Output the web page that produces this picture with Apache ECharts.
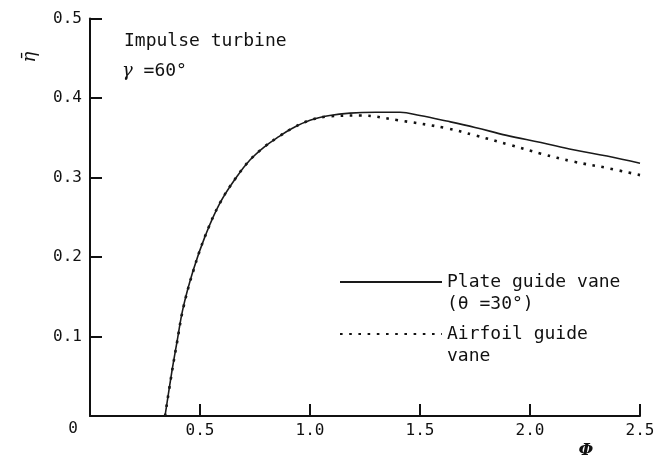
<!DOCTYPE html>
<html>
<head>
<meta charset="utf-8">
<script src="https://cdn.jsdelivr.net/npm/echarts@6/dist/echarts.min.js"></script>
<style>
  html, body { margin: 0; padding: 0; background: #fff; }
  #chart { width: 658px; height: 459px; }
</style>
</head>
<body>
<div id="chart"></div>
<script>
// Flow coefficient Φ and mean efficiency η̄ for the impulse turbine (γ = 60°)
const phiPlate = [0.341, 0.371, 0.394, 0.424, 0.470, 0.523, 0.591, 0.667, 0.727, 0.79, 0.856, 0.92, 1.0, 1.09, 1.182, 1.3, 1.409, 1.5, 1.621, 1.75, 1.894, 2.05, 2.197, 2.35, 2.5];
const etaPlate = [0, 0.054, 0.091, 0.137, 0.184, 0.226, 0.268, 0.301, 0.322, 0.338, 0.351, 0.362, 0.372, 0.378, 0.381, 0.382, 0.382, 0.378, 0.371, 0.363, 0.353, 0.344, 0.335, 0.327, 0.318];

const phiAirfoil = [0.341, 0.371, 0.394, 0.424, 0.470, 0.523, 0.591, 0.667, 0.727, 0.79, 0.856, 0.92, 1.0, 1.09, 1.227, 1.4, 1.621, 1.75, 1.909, 2.05, 2.197, 2.35, 2.5];
const etaAirfoil = [0, 0.053, 0.090, 0.136, 0.183, 0.226, 0.268, 0.301, 0.322, 0.338, 0.351, 0.362, 0.372, 0.377, 0.378, 0.372, 0.362, 0.353, 0.341, 0.330, 0.320, 0.312, 0.303];

const seriesNames = ['Plate guide vane\n(θ =30°)', 'Airfoil guide\nvane'];
const xTicks = [0, 0.5, 1.0, 1.5, 2.0, 2.5];
const yTicks = [0, 0.1, 0.2, 0.3, 0.4, 0.5];

const zip = (xs, ys) => xs.map((x, i) => [x, ys[i]]);

const MONO = '"DejaVu Sans Mono", "Liberation Mono", monospace';
const SERIF = '"DejaVu Serif", "Liberation Serif", serif';

const chart = echarts.init(document.getElementById('chart'), null, { renderer: 'canvas' });

const axisCommon = {
  axisLine: { lineStyle: { color: '#111', width: 2 } },
  axisTick: { inside: true, length: 12, lineStyle: { color: '#111', width: 2 } },
  splitLine: { show: false },
  axisLabel: { color: '#111', fontFamily: MONO, fontSize: 16 }
};

chart.setOption({
  animation: false,
  backgroundColor: '#fff',
  grid: { left: 90, right: 18, top: 18.5, bottom: 43, containLabel: false },
  xAxis: Object.assign({}, axisCommon, {
    type: 'value',
    min: xTicks[0],
    max: xTicks[xTicks.length - 1],
    interval: 0.5,
    axisLabel: Object.assign({}, axisCommon.axisLabel, {
      margin: 7,
      formatter: v => (v === 0 ? '' : v.toFixed(1))
    })
  }),
  yAxis: Object.assign({}, axisCommon, {
    type: 'value',
    min: yTicks[0],
    max: yTicks[yTicks.length - 1],
    interval: 0.1,
    axisLabel: Object.assign({}, axisCommon.axisLabel, {
      margin: 8,
      formatter: v => (v === 0 ? '' : v.toFixed(1))
    })
  }),
  legend: {
    orient: 'vertical',
    left: 339,
    top: 249,
    padding: 0,
    itemGap: -14,
    itemWidth: 102,
    itemHeight: 14,
    selectedMode: false,
    data: seriesNames,
    // leading blank line keeps the first text line level with the key line
    formatter: name => '\n' + name,
    itemStyle: { opacity: 0 },
    textStyle: {
      fontFamily: MONO,
      fontSize: 18,
      color: '#111',
      lineHeight: 22
    }
  },
  series: [
    {
      name: seriesNames[0],
      type: 'line',
      data: zip(phiPlate, etaPlate),
      smooth: 0.4,
      symbol: 'none',
      lineStyle: { color: '#1a1a1a', width: 1.6 },
      z: 3
    },
    {
      name: seriesNames[1],
      type: 'line',
      data: zip(phiAirfoil, etaAirfoil),
      smooth: 0.4,
      symbol: 'none',
      lineStyle: { color: '#111', width: 2.6, type: [2.6, 6.6] },
      z: 2
    }
  ],
  graphic: [
    {
      type: 'text', left: 124, top: 32,
      style: { text: 'Impulse turbine', fontFamily: MONO, fontSize: 18, fill: '#111' }
    },
    {
      type: 'text', left: 122, top: 62,
      style: {
        text: '{g|γ} =60°',
        fontFamily: MONO, fontSize: 18, fill: '#111',
        rich: { g: { fontFamily: SERIF, fontStyle: 'italic', fontSize: 18 } }
      }
    },
    {
      type: 'text', x: 30, y: 57, rotation: Math.PI / 2,
      style: {
        text: 'η\u0304', fontFamily: SERIF, fontStyle: 'italic', fontSize: 18, fill: '#111',
        align: 'center', verticalAlign: 'middle'
      }
    },
    {
      type: 'text', x: 586, y: 451,
      style: {
        text: 'Φ', fontFamily: SERIF, fontStyle: 'italic', fontWeight: 'bold', fontSize: 17, fill: '#111',
        align: 'center', verticalAlign: 'middle'
      }
    },
    {
      type: 'text', x: 73, y: 429,
      style: {
        text: '0', fontFamily: MONO, fontSize: 16, fill: '#111',
        align: 'center', verticalAlign: 'middle'
      }
    }
  ]
});
</script>
</body>
</html>
